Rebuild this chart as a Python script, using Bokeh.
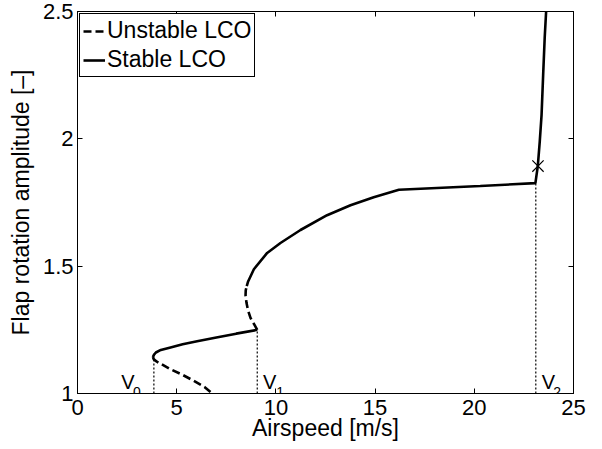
from bokeh.plotting import figure
from bokeh.models import Range1d, LinearAxis, FixedTicker, Legend, LegendItem, CustomJSTickFormatter
from bokeh.embed import file_html
from bokeh.resources import INLINE
from bokeh.core.properties import value

# ---- data ----
# lower unstable branch (dashed)
ul_x = [3.80, 3.85, 4.00, 4.30, 4.69, 5.30, 5.86, 6.40, 6.80]
ul_y = [1.143, 1.134, 1.125, 1.112, 1.095, 1.073, 1.050, 1.026, 1.000]
# lower stable branch (solid)
sl_x = [3.80, 3.86, 3.95, 4.20, 4.69, 5.30, 6.03, 7.00, 8.00, 9.06]
sl_y = [1.143, 1.153, 1.161, 1.171, 1.181, 1.193, 1.205, 1.220, 1.235, 1.250]
# middle unstable branch (dashed)
um_x = [9.06, 8.90, 8.72, 8.60, 8.52, 8.47, 8.48, 8.53]
um_y = [1.250, 1.272, 1.297, 1.325, 1.355, 1.385, 1.405, 1.422]
# upper stable branch (solid)
su_x = [8.53, 8.60, 8.89, 9.56, 10.23, 11.24, 12.58, 13.76, 14.93, 16.20,
        20.30, 23.08, 23.20, 23.30, 23.39, 23.47, 23.55, 23.62]
su_y = [1.422, 1.440, 1.488, 1.552, 1.591, 1.642, 1.700, 1.739, 1.771, 1.800,
        1.815, 1.826, 1.893, 1.990, 2.093, 2.250, 2.400, 2.500]
# critical speeds and their amplitudes
v_names = ["V", "V", "V"]
v_subs = ["0", "1", "2"]
v_speed = [3.85, 9.06, 23.10]
v_amp = [1.135, 1.250, 1.826]
# label placement (data units)
v_label_x = [2.20, 9.35, 23.40]
v_sub_x = [2.80, 10.02, 23.98]
v_label_y = [1.044, 1.044, 1.044]
v_sub_y = [1.007, 1.007, 1.007]
# marked point
mark_x = [23.21]
mark_y = [1.893]

x_ticks = [0, 5, 10, 15, 20, 25]
y_ticks = [1, 1.5, 2, 2.5]
y_tick_labels = ["1", "1.5", "2", "2.5"]

FONT = "Liberation Sans"

p = figure(width=602, height=449, x_range=Range1d(0, 25), y_range=Range1d(1, 2.5),
           output_backend="svg", toolbar_location=None,
           min_border_left=77, min_border_right=29, min_border_top=11, min_border_bottom=56)
p.grid.visible = False
p.outline_line_color = "black"
p.outline_line_width = 1
p.background_fill_color = "white"
p.border_fill_color = "white"

def style_axis(ax, ticks, show_labels):
    ax.ticker = FixedTicker(ticks=ticks)
    ax.major_tick_in = 5
    ax.major_tick_out = 0
    ax.minor_tick_in = 0
    ax.minor_tick_out = 0
    ax.axis_line_color = "black"
    ax.major_tick_line_color = "black"
    ax.major_label_text_color = "black"
    ax.major_label_text_font = FONT
    ax.axis_label_text_font = FONT
    ax.axis_label_text_font_style = "normal"
    ax.axis_label_text_color = "black"
    ax.axis_label_text_font_size = "23px"
    ax.major_label_text_font_size = "22px"
    if not show_labels:
        ax.formatter = CustomJSTickFormatter(code="return ''")
        ax.major_label_standoff = 0

xa = p.xaxis[0]
style_axis(xa, x_ticks, True)
xa.axis_label = "Airspeed [m/s]"
xa.major_label_standoff = 6
xa.axis_label_standoff = -3

ya = p.yaxis[0]
style_axis(ya, y_ticks, True)
ya.axis_label = "Flap rotation amplitude [–]"
ya.major_label_overrides = {t: s for t, s in zip(y_ticks, y_tick_labels)}
ya.major_label_standoff = 4
ya.axis_label_standoff = 6

top = LinearAxis()
style_axis(top, x_ticks, False)
p.add_layout(top, "above")
right = LinearAxis()
style_axis(right, y_ticks, False)
p.add_layout(right, "right")

LW = 2.6
DASH = "8 4"
r_ul = p.line(ul_x, ul_y, line_color="black", line_width=LW, line_dash=DASH)
p.line(um_x, um_y, line_color="black", line_width=LW, line_dash=DASH)
r_sl = p.line(sl_x, sl_y, line_color="black", line_width=LW)
p.line(su_x, su_y, line_color="black", line_width=LW)

p.segment(x0=v_speed, y0=[1, 1, 1], x1=v_speed, y1=v_amp,
          line_color="black", line_width=1.2, line_dash="2 2")

p.scatter(mark_x, mark_y, marker="x", size=16, line_color="black", line_width=1.2)

p.text(x=v_label_x, y=v_label_y, text=v_names, text_font=value(FONT),
       text_font_size="20px", text_align="left", text_baseline="alphabetic", text_color="black")
p.text(x=v_sub_x, y=v_sub_y, text=v_subs, text_font=value(FONT),
       text_font_size="14px", text_align="left", text_baseline="alphabetic", text_color="black")

legend = Legend(items=[LegendItem(label="Unstable LCO", renderers=[r_ul]),
                       LegendItem(label="Stable LCO", renderers=[r_sl])],
                location=(2, 316), margin=0, padding=3, spacing=2,
                glyph_width=22, glyph_height=20, label_standoff=2,
                label_text_font=FONT, label_text_font_size="23px", label_text_color="black",
                border_line_color="black", border_line_width=1, border_line_alpha=1,
                background_fill_color="white", background_fill_alpha=1)
p.add_layout(legend)

open("out.html", "w").write(file_html(p, INLINE))
